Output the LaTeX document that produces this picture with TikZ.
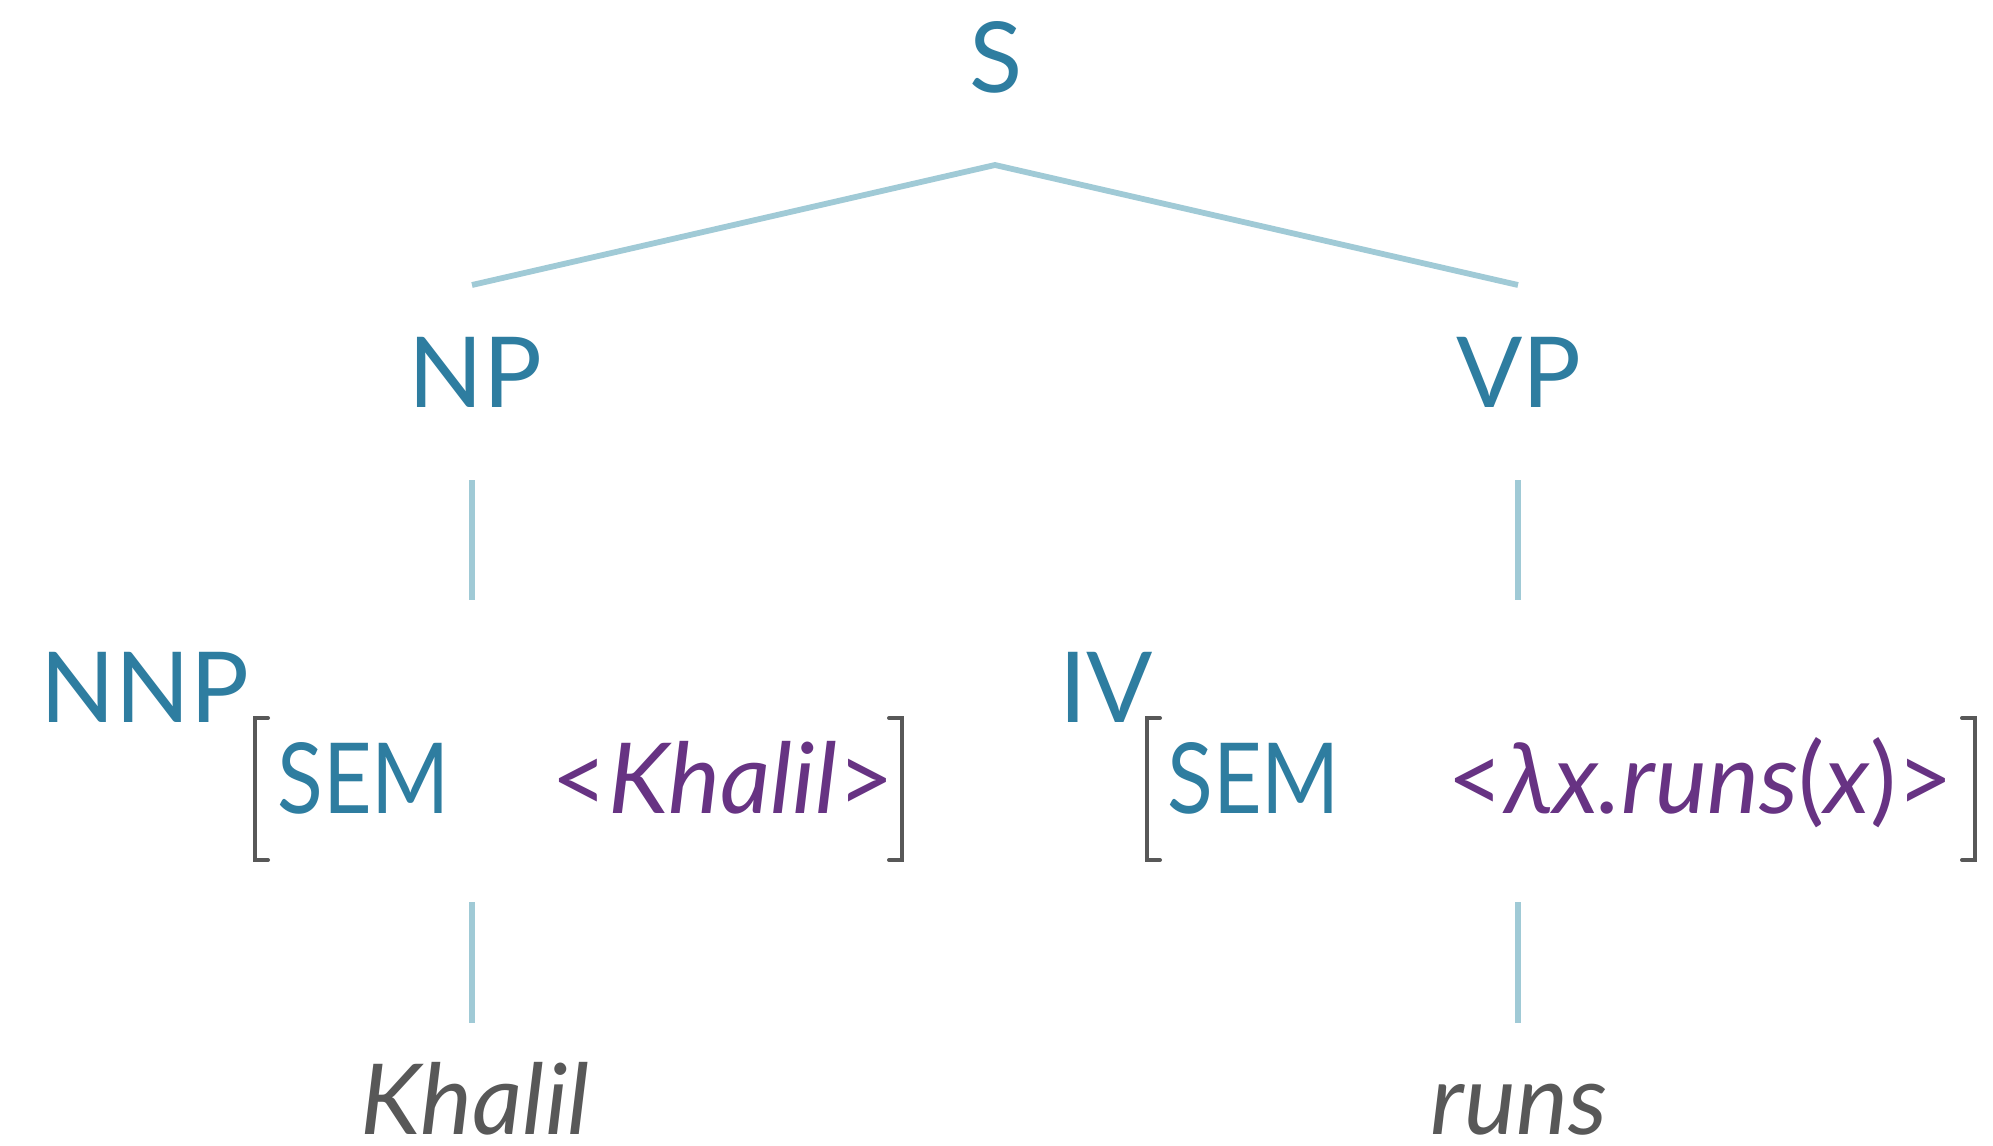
\documentclass[tikz,border=0pt]{standalone}
\usepackage{fontspec}
\setmainfont{Lato}
\definecolor{cat}{HTML}{2E7DA0}
\definecolor{edge}{HTML}{A0CAD6}
\definecolor{sem}{HTML}{673383}
\definecolor{brk}{HTML}{585858}
\begin{document}
\begin{tikzpicture}[x=0.5pt,y=-0.5pt,
  catlabel/.style={inner sep=0pt,text=cat,font=\fontsize{49}{50}\selectfont},
  semval/.style={inner sep=0pt,text=sem,font=\fontsize{49}{50}\selectfont},
  word/.style={inner sep=0pt,text=brk,font=\fontsize{49}{50}\selectfont\itshape},
  treeedge/.style={draw=edge,line width=2.9pt},
  bracket/.style={draw=brk,line width=2pt,line cap=round}]
\fill[white] (0,0) rectangle (1993,1146);
\useasboundingbox (0,0) rectangle (1993,1146);
% category labels
\node[catlabel,anchor=base] (S) at (996,92) {S};
\node[catlabel,anchor=base] (NP) at (475,407) {NP};
\node[catlabel,anchor=base] (VP) at (1519,407) {VP};
\node[catlabel,anchor=base west] (NNP) at (40,722) {NNP};
\node[catlabel,anchor=base west] (IV) at (1059,722) {IV};
% feature structures
\node[catlabel,anchor=base west] (sem1) at (277,813) {\scalebox{0.86}[1]{SEM}};
\node[semval,anchor=base west] (val1) at (551,813) {<\textit{Khalil}>};
\node[catlabel,anchor=base west] (sem2) at (1167,813) {\scalebox{0.86}[1]{SEM}};
\node[semval,anchor=base west] (val2) at (1447,813) {<\textit{λx.runs}(\textit{x})>};
% words
\node[word,anchor=base] (w1) at (475,1134) {Khalil};
\node[word,anchor=base] (w2) at (1519,1134) {runs};
% edge end points
\coordinate (apex) at (995,165);
\coordinate (npT) at (472,285);
\coordinate (vpT) at (1518,285);
\coordinate (npB) at (472,480);
\coordinate (nnpT) at (472,600);
\coordinate (vpB) at (1518,480);
\coordinate (ivT) at (1518,600);
\coordinate (nnpB) at (472,902);
\coordinate (w1T) at (472,1023);
\coordinate (ivB) at (1518,902);
\coordinate (w2T) at (1518,1023);
\draw[treeedge] (npT) -- (apex) -- (vpT);
\draw[treeedge] (npB) -- (nnpT);
\draw[treeedge] (vpB) -- (ivT);
\draw[treeedge] (nnpB) -- (w1T);
\draw[treeedge] (ivB) -- (w2T);
% brackets
\draw[bracket] (268,718) -- (255,718) -- (255,860) -- (268,860);
\draw[bracket] (889,718) -- (902,718) -- (902,860) -- (889,860);
\draw[bracket] (1160,718) -- (1147,718) -- (1147,860) -- (1160,860);
\draw[bracket] (1962,718) -- (1975,718) -- (1975,860) -- (1962,860);
\end{tikzpicture}
\end{document}
